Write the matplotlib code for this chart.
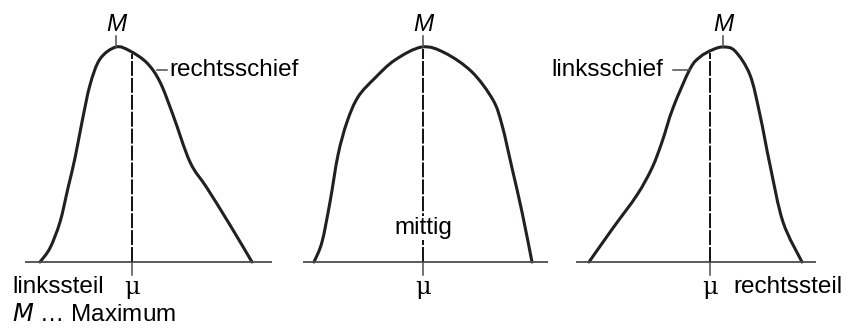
import matplotlib
matplotlib.use("Agg")
import numpy as np
from matplotlib import pyplot as plt
from matplotlib.path import Path
from matplotlib.patches import PathPatch

plt.rcParams['font.family'] = ['Liberation Sans', 'DejaVu Sans']

# curve points per panel: x position and height above the baseline (pixels)
left_x = [40, 50, 60, 68, 75, 82, 90, 100, 116, 130, 147, 160, 173, 190, 207, 230, 252]
left_h = [0, 14, 40, 74, 104, 140, 177, 203, 215, 211, 199, 180, 147, 100, 74, 37, 0]
mid_x = [314, 322, 330, 338, 347, 358, 375, 395, 422, 445, 472, 493, 502, 512, 522, 532]
mid_h = [0, 20, 60, 107, 140, 165, 184, 202, 215, 209, 190, 162, 137, 94, 50, 0]
right_x = [589, 613, 637, 652, 662, 673, 690, 700, 712, 723, 735, 750, 760, 770, 783, 802]
right_h = [0, 34, 67, 94, 120, 154, 193, 205, 212, 215, 211, 187, 147, 97, 40, 0]

baselines = [(25, 272), (303, 548), (576, 816)]
mu_x = [132, 423, 710]
peak_x = [116, 423, 723]
base_y = 262


def smooth_path(xs, ys):
    # Catmull-Rom through the points, drawn as cubic Bezier segments
    p = np.column_stack([xs, ys]).astype(float)
    p = np.vstack([p[0], p, p[-1]])
    verts = [p[1]]
    codes = [Path.MOVETO]
    for i in range(1, len(p) - 2):
        c1 = p[i] + (p[i + 1] - p[i - 1]) / 6
        c2 = p[i + 1] - (p[i + 2] - p[i]) / 6
        verts += [c1, c2, p[i + 1]]
        codes += [Path.CURVE4] * 3
    return Path(verts, codes)


fig = plt.figure(figsize=(8.48, 3.29), dpi=100)
ax = fig.add_axes([0, 0, 1, 1])
ax.set_xlim(0, 848)
ax.set_ylim(329, 0)
ax.axis('off')

curve_col = '#231f20'
axis_col = '#4d4b4b'
fs = 17.5

curves = [(left_x, left_h), (mid_x, mid_h), (right_x, right_h)]
for (xs, hs), (b0, b1), mx, px in zip(curves, baselines, mu_x, peak_x):
    xs = np.array(xs)
    ys = base_y - np.array(hs)
    ax.plot([b0, b1], [base_y, base_y], color=axis_col, lw=1.3, solid_capstyle='butt')
    ax.add_patch(PathPatch(smooth_path(xs, ys), facecolor='none', edgecolor=curve_col,
                           lw=2.2, joinstyle='round', capstyle='round'))
    top = np.interp(mx, xs, ys) + 2
    ax.plot([mx, mx], [base_y, top], color='#111111', lw=1.4,
            linestyle=(0, (7.7, 1.0)))
    ax.plot([mx, mx], [base_y, base_y + 13], color=axis_col, lw=1.1)
    ptop = np.interp(px, xs, ys)
    ax.plot([px, px], [ptop, ptop - 11], color=axis_col, lw=1.1)
    ax.text(px, ptop - 11, 'M', style='italic', fontsize=fs, ha='center', va='bottom')
    ax.text(mx, base_y + 14, 'μ', fontsize=fs, ha='center', va='top', family='DejaVu Serif')

# middle panel: gap in dashed line for label
ax.text(423, 228, 'mittig', fontsize=fs, ha='center', va='center',
        bbox=dict(facecolor='white', edgecolor='none', pad=1.0))

ax.plot([157, 167], [70, 70], color=axis_col, lw=1.1)
ax.text(169, 70, 'rechtsschief', fontsize=fs, ha='left', va='center')
ax.plot([673, 690], [70, 70], color=axis_col, lw=1.1)
ax.text(663, 70, 'linksschief', fontsize=fs, ha='right', va='center')

ax.text(12, 287, 'linkssteil', fontsize=fs, ha='left', va='center')
ax.text(733, 287, 'rechtssteil', fontsize=fs, ha='left', va='center')
ax.text(12, 315, '$M$ … Maximum', fontsize=fs, ha='left', va='center')

fig.savefig('out.png', dpi=100)
